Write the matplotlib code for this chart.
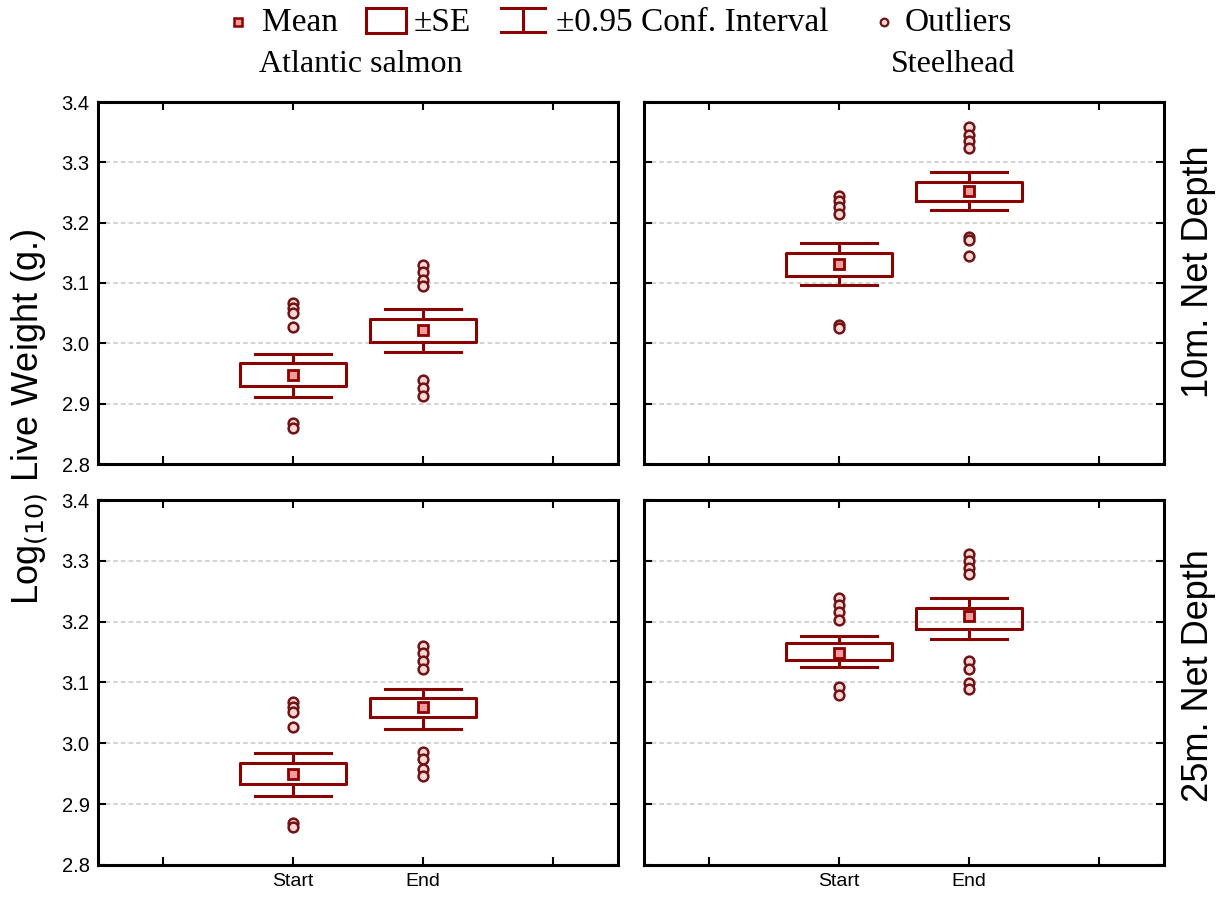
import matplotlib
matplotlib.use("Agg")
import matplotlib.pyplot as plt
from matplotlib import font_manager as fm
from matplotlib.patches import Rectangle
from matplotlib.lines import Line2D

# ---------------- data ----------------
groups = ["Start", "End"]
species = ["Atlantic salmon", "Steelhead"]
depths = ["10m. Net Depth", "25m. Net Depth"]
yticks = [2.8, 2.9, 3.0, 3.1, 3.2, 3.3, 3.4]

as10_mean = [2.947, 3.022]
as10_se_lo = [2.929, 3.002]
as10_se_hi = [2.967, 3.040]
as10_ci_lo = [2.911, 2.985]
as10_ci_hi = [2.982, 3.057]
as10_out_start = [3.067, 3.058, 3.050, 3.027, 2.868, 2.860]
as10_out_end = [3.130, 3.118, 3.105, 3.095, 2.939, 2.926, 2.912]

sh10_mean = [3.131, 3.252]
sh10_se_lo = [3.111, 3.236]
sh10_se_hi = [3.149, 3.268]
sh10_ci_lo = [3.096, 3.221]
sh10_ci_hi = [3.166, 3.284]
sh10_out_start = [3.245, 3.236, 3.226, 3.214, 3.030, 3.025]
sh10_out_end = [3.358, 3.346, 3.335, 3.324, 3.177, 3.171, 3.145]

as25_mean = [2.949, 3.059]
as25_se_lo = [2.933, 3.043]
as25_se_hi = [2.968, 3.075]
as25_ci_lo = [2.914, 3.024]
as25_ci_hi = [2.984, 3.090]
as25_out_start = [3.068, 3.060, 3.052, 3.027, 2.869, 2.863]
as25_out_end = [3.160, 3.148, 3.135, 3.123, 2.986, 2.974, 2.958, 2.946]

sh25_mean = [3.149, 3.209]
sh25_se_lo = [3.137, 3.188]
sh25_se_hi = [3.165, 3.223]
sh25_ci_lo = [3.125, 3.172]
sh25_ci_hi = [3.176, 3.239]
sh25_out_start = [3.239, 3.228, 3.216, 3.203, 3.093, 3.079]
sh25_out_end = [3.312, 3.300, 3.288, 3.279, 3.135, 3.123, 3.099, 3.090]

panels = {
    (0, 0): (as10_mean, as10_se_lo, as10_se_hi, as10_ci_lo, as10_ci_hi, [as10_out_start, as10_out_end]),
    (0, 1): (sh10_mean, sh10_se_lo, sh10_se_hi, sh10_ci_lo, sh10_ci_hi, [sh10_out_start, sh10_out_end]),
    (1, 0): (as25_mean, as25_se_lo, as25_se_hi, as25_ci_lo, as25_ci_hi, [as25_out_start, as25_out_end]),
    (1, 1): (sh25_mean, sh25_se_lo, sh25_se_hi, sh25_ci_lo, sh25_ci_hi, [sh25_out_start, sh25_out_end]),
}

# ---------------- style ----------------
RED = "#8b0000"
MEAN_FACE = "#f59a9a"
OUT_FACE = "#ffd6d6"
OUT_EDGE = "#6e1414"

names = {f.name for f in fm.fontManager.ttflist}
narrow = "Liberation Sans Narrow" if "Liberation Sans Narrow" in names else "Liberation Sans"
serif = "Liberation Serif"
sans = "Liberation Sans"

W, H = 1229, 898
fig = plt.figure(figsize=(W / 100, H / 100), dpi=100)

def px_rect(x0, y0, x1, y1):
    return [x0 / W, 1 - y1 / H, (x1 - x0) / W, (y1 - y0) / H]

cols_px = [(98, 618), (644, 1164)]
rows_px = [(102, 464), (500, 865)]

positions = [2, 3]
axes = {}
for (r, c), (mean, se_lo, se_hi, ci_lo, ci_hi, outs) in panels.items():
    ax = fig.add_axes(px_rect(cols_px[c][0], rows_px[r][0], cols_px[c][1], rows_px[r][1]))
    axes[(r, c)] = ax
    stats = []
    for i in range(2):
        stats.append(dict(med=mean[i], mean=mean[i], q1=se_lo[i], q3=se_hi[i],
                          whislo=ci_lo[i], whishi=ci_hi[i], fliers=outs[i]))
    ax.bxp(stats, positions=positions, widths=0.81, capwidths=0.58,
           showmeans=True, showfliers=True,
           boxprops=dict(color=RED, linewidth=2.2),
           whiskerprops=dict(color=RED, linewidth=2.2),
           capprops=dict(color=RED, linewidth=2.2),
           medianprops=dict(linewidth=0),
           meanprops=dict(marker="s", markersize=7.5, markerfacecolor=MEAN_FACE,
                          markeredgecolor=RED, markeredgewidth=2.0),
           flierprops=dict(marker="o", markersize=7, markerfacecolor=OUT_FACE,
                           markeredgecolor=OUT_EDGE, markeredgewidth=1.8))
    ax.set_xlim(0.5, 4.5)
    ax.set_ylim(2.8, 3.4)
    ax.set_yticks(yticks)
    ax.set_xticks([1, 2, 3, 4])
    if r == 1:
        ax.set_xticklabels([""] + groups + [""], fontsize=14, fontfamily=sans)
    else:
        ax.set_xticklabels([])
    if c == 0:
        ax.set_yticklabels([f"{v:.1f}" for v in yticks], fontsize=14.5, fontfamily=sans)
    else:
        ax.set_yticklabels([])
    ax.tick_params(direction="in", length=6, width=1.5, top=True, right=True,
                   pad=6, colors="black")
    ax.grid(axis="y", linestyle=(0, (3, 2)), color="#c8c8c8", linewidth=1.1)
    ax.set_axisbelow(True)
    for s in ax.spines.values():
        s.set_linewidth(2.2)
        s.set_color("black")

# y label and row labels
fig.text(30 / W, 1 - 417 / H, r"Log$_{(10)}$ Live Weight (g.)", rotation=90,
         ha="center", va="center", fontsize=26, fontfamily=narrow)
row_label_y = [272, 676]
for r, lab in enumerate(depths):
    fig.text(1198 / W, 1 - row_label_y[r] / H, lab, rotation=90, ha="center", va="center",
             fontsize=26, fontfamily=narrow)

# column titles
fig.text(361 / W, 1 - 65 / H, species[0], ha="center", va="center",
         fontsize=23, fontfamily=serif)
fig.text(953 / W, 1 - 65 / H, species[1], ha="center", va="center",
         fontsize=23, fontfamily=serif)

# legend drawn in a pixel-coordinate overlay
lg = fig.add_axes([0, 0, 1, 1], zorder=-1)
lg.set_xlim(0, W)
lg.set_ylim(H, 0)
lg.axis("off")
ly = 23
FS = 24
lg.plot([238], [ly - 1], marker="s", markersize=5.5, markerfacecolor=MEAN_FACE,
        markeredgecolor=RED, markeredgewidth=1.8, linestyle="none")
lg.text(262, ly, "Mean", ha="left", va="center", fontsize=FS, fontfamily=serif)
lg.add_patch(Rectangle((366, 8), 40, 25, fill=False, edgecolor=RED, linewidth=2.2))
lg.text(414, ly, "±SE", ha="left", va="center", fontsize=FS, fontfamily=serif)
lg.add_line(Line2D([501, 545], [8, 8], color=RED, linewidth=2.2))
lg.add_line(Line2D([501, 545], [32, 32], color=RED, linewidth=2.2))
lg.add_line(Line2D([523, 523], [8, 32], color=RED, linewidth=2.2))
lg.text(556, ly, "±0.95 Conf. Interval", ha="left", va="center", fontsize=FS, fontfamily=serif)
lg.plot([884], [ly - 1], marker="o", markersize=5.5, markerfacecolor=OUT_FACE,
        markeredgecolor=OUT_EDGE, markeredgewidth=1.6, linestyle="none")
lg.text(905, ly, "Outliers", ha="left", va="center", fontsize=FS, fontfamily=serif)

fig.savefig("out.png", dpi=100)
